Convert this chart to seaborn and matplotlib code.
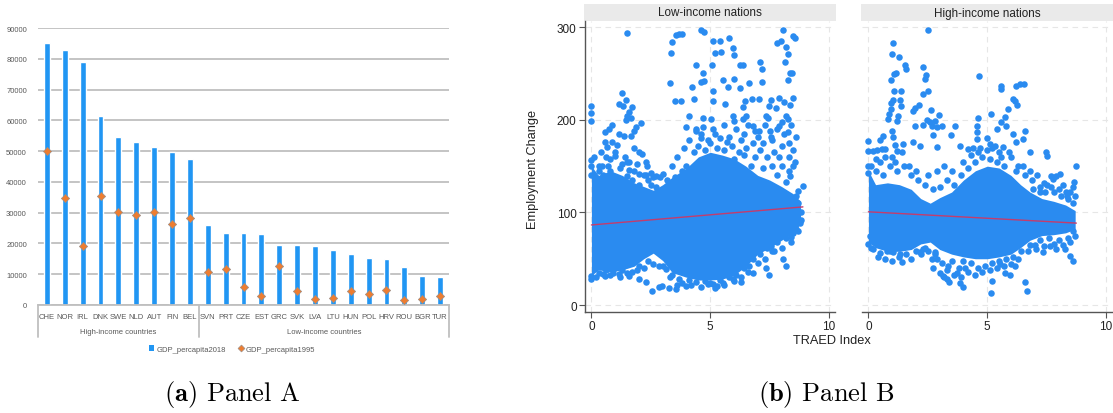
import matplotlib
matplotlib.use("Agg")
import matplotlib.pyplot as plt
import matplotlib.transforms as mtransforms
from matplotlib.patches import Rectangle, Patch
from matplotlib.lines import Line2D
import seaborn as sns
import pandas as pd

# ---------------- Panel A data ----------------
countries = ["CHE", "NOR", "IRL", "DNK", "SWE", "NLD", "AUT", "FIN", "BEL",
             "SVN", "PRT", "CZE", "EST", "GRC", "SVK", "LVA", "LTU", "HUN",
             "POL", "HRV", "ROU", "BGR", "TUR"]
gdp2018 = [85000, 82700, 79100, 61500, 54500, 52900, 51400, 49800, 47400,
           26000, 23500, 23400, 23000, 19600, 19400, 19100, 17900, 16500,
           15400, 14900, 12300, 9400, 9200]
gdp1995 = [50000, 34700, 19100, 35300, 30200, 29200, 30200, 26200, 28400,
           10600, 11700, 5700, 3000, 12800, 4700, 2000, 2300, 4400,
           3600, 4900, 1500, 2100, 2800]
group_names = ["High-income countries", "Low-income countries"]
group_sizes = [9, 14]

# ---------------- Panel B data ----------------
facet_titles = ["Low-income nations", "High-income nations"]

# dense core envelopes (x, lower, upper)
low_core_x = [0, 0.3, 0.8, 1.3, 1.8, 2.2, 2.6, 3.0, 3.4, 4.0, 4.5, 5.0, 5.5, 6.0, 6.5, 7.0, 7.5, 8.0, 8.5, 8.8]
low_core_lo = [32, 38, 36, 38, 42, 50, 56, 48, 35, 30, 27, 27, 28, 32, 42, 55, 62, 70, 78, 88]
low_core_hi = [150, 140, 145, 140, 132, 128, 124, 130, 138, 148, 160, 165, 162, 158, 150, 140, 135, 128, 120, 112]

high_core_x = [0, 0.3, 0.8, 1.3, 1.8, 2.2, 2.6, 3.0, 3.5, 4.0, 4.5, 5.0, 5.5, 6.0, 6.4, 6.8, 7.3, 7.8, 8.3, 8.7]
high_core_lo = [68, 62, 58, 58, 60, 66, 68, 60, 55, 52, 50, 50, 52, 55, 62, 70, 75, 76, 78, 82]
high_core_hi = [145, 130, 132, 130, 125, 115, 110, 116, 122, 135, 145, 150, 148, 140, 130, 122, 115, 112, 108, 102]

low_pts = [
    (1.51, 293.5), (3.55, 291.7), (3.69, 292.8), (3.83, 292.8), (3.38, 283.8), (3.35, 272),
    (4.6, 297), (4.75, 295), (5.1, 285), (5.41, 285), (5.8, 288.5), (5.2, 272), (5.45, 273),
    (5.94, 277.6), (6.0, 270), (6.27, 259.6), (6.39, 259.6), (7.1, 263), (7.17, 255), (8.06, 297),
    (7.8, 283), (7.99, 285), (8.2, 279), (8.27, 271), (8.14, 263), (8.48, 291), (8.55, 288.5),
    (8.34, 251), (8.42, 251), (8.27, 243), (5.06, 259.6), (4.42, 259.6), (4.68, 251), (4.75, 242),
    (4.6, 240.5), (3.3, 240), (4.25, 236), (5.55, 243), (6.0, 244), (5.76, 236), (6.25, 234),
    (6.65, 240), (7.18, 240.5), (5.1, 231.5), (4.32, 223), (3.52, 220), (3.76, 220), (5.1, 220),
    (5.63, 217), (6.37, 213.5), (6.48, 220.7), (6.76, 222.5), (7.07, 223), (7.56, 221), (7.9, 223.6),
    (8.1, 219), (8.37, 216), (8.48, 223.6), (7.46, 214.6), (7.75, 212.4), (7.35, 204.5), (7.42, 201.6),
    (8.2, 204.5), (8.27, 201), (7.9, 193.7), (8.27, 186.5), (6.5, 204.5), (6.37, 201), (5.94, 204.5),
    (6.0, 199), (6.79, 193.7), (7.07, 188), (7.56, 181), (4.11, 204.5), (4.68, 202), (5.03, 201),
    (3.97, 192), (4.39, 190), (4.6, 184.7),
    (0, 214.6), (0, 207), (0, 199), (1.27, 229), (1.15, 217), (1.32, 214.6), (1.44, 221.8),
    (1.72, 213.5), (1.58, 208), (1.51, 203.8), (1.44, 199.8), (1.65, 201.6), (2.07, 196.6),
    (1.86, 192), (1.79, 188), (0.87, 194.4), (0.73, 190), (0.59, 186.5), (1.15, 184.7), (1.37, 183),
    (1.65, 183), (0.87, 176.4), (1.08, 172.8), (0.59, 175.7), (0.66, 170.3), (1.79, 170), (2.0, 165),
    (2.11, 163), (1.0, 161), (0.8, 157.7), (0.45, 150.5), (0.31, 145), (1.58, 154), (2.28, 154),
    (2.35, 150.5), (2.49, 143), (2.28, 140), (2.7, 139.6), (2.9, 137.8), (2.0, 141.4), (1.51, 139.6),
    (0, 31.5), (0.59, 31.5), (0.8, 32), (1.15, 33), (1.58, 31.5), (2.0, 28), (2.28, 25), (2.56, 15.3),
    (2.85, 19), (2.99, 20.7), (3.27, 18), (3.55, 17), (3.83, 24.3), (3.97, 20.7), (2.77, 60), (3.2, 51),
    (2.85, 42), (3.13, 38.7), (5.1, 22.5), (5.3, 20.7), (5.52, 24.3), (5.94, 28), (6.3, 25), (6.65, 42),
    (6.79, 35), (7.35, 40.5), (7.46, 32), (8.06, 49.5), (8.17, 42), (7.56, 64), (7.61, 58.6), (8.2, 78.4),
    (8.4, 73), (8.62, 82), (8.76, 89), (8.9, 128.8), (8.69, 123), (8.6, 118), (8.48, 150), (8.55, 154),
    (8.34, 139.6), (8.2, 132.4), (7.56, 128.8), (7.7, 121.6),
    (4.3, 165), (4.5, 172), (4.8, 168), (5.0, 175), (5.3, 170), (5.6, 168), (5.9, 172), (6.2, 165),
    (6.5, 170), (6.8, 175), (7.1, 168), (7.4, 160), (7.7, 165), (8.0, 172), (8.3, 160), (4.6, 180),
    (5.2, 185), (5.8, 182), (6.4, 185), (7.0, 182), (7.6, 178), (8.1, 185), (6.0, 158), (6.7, 150),
    (7.2, 148), (7.8, 140), (8.0, 150), (3.8, 145), (4.0, 150), (3.5, 138), (3.2, 135), (0.3, 150),
    (0.5, 140), (0.8, 145), (1.2, 148), (1.5, 155), (1.8, 145), (2.2, 140), (2.5, 130), (2.7, 128),
    (0.6, 160), (1.0, 165), (1.4, 160), (0.2, 135), (2.0, 130), (1.1, 135),
    (0.3, 35), (0.6, 38), (1.0, 40), (1.3, 38), (1.7, 36), (2.0, 42), (2.4, 48), (3.4, 32), (3.7, 28),
    (4.1, 27), (4.4, 25), (4.8, 26), (5.0, 24), (5.4, 27), (5.8, 30), (6.1, 32), (6.4, 40), (6.8, 50),
    (7.1, 55), (7.4, 62), (7.8, 68), (8.2, 72), (8.5, 78), (8.8, 92), (8.8, 100), (8.7, 110),
    (0, 150), (0, 157), (0, 140), (0, 28),
    (3.6, 160), (3.9, 170), (4.1, 178), (4.4, 188), (4.7, 192), (4.9, 178), (5.1, 190), (5.4, 180),
    (5.6, 195), (5.7, 176), (6.1, 190), (6.3, 178), (6.6, 195), (6.9, 188), (7.2, 175), (7.3, 195),
    (7.5, 188), (7.8, 190), (8.0, 198), (8.3, 175), (8.5, 168), (8.6, 182), (8.4, 195), (7.9, 160),
    (7.6, 150), (8.3, 145), (6.9, 160), (6.4, 162), (3.4, 150), (3.0, 142), (2.6, 138), (2.4, 135),
    (0.1, 160), (0.4, 165), (0.7, 150), (1.3, 152), (1.6, 146), (1.9, 152), (0.9, 130), (1.7, 135),
    (0.2, 30), (0.5, 33), (0.9, 35), (1.2, 30), (1.5, 35), (1.9, 38), (2.2, 40), (2.6, 44), (3.0, 42),
    (3.3, 30), (3.6, 22), (4.2, 22), (4.6, 20), (4.9, 23), (5.2, 18), (5.6, 22), (6.0, 26), (6.3, 30),
    (6.6, 36), (7.0, 45), (7.3, 50), (7.7, 58), (8.0, 62), (8.4, 68), (8.7, 80),
]
low_x = [p[0] for p in low_pts]
low_y = [p[1] for p in low_pts]

high_pts = [
    (2.52, 297), (1.05, 283), (1.01, 271), (1.3, 268), (1.54, 259.6), (1.57, 255), (1.16, 251),
    (1.09, 249.5), (0.94, 243), (2.31, 256.8), (2.42, 248.5), (2.38, 244), (2.52, 231), (2.31, 227.6),
    (1.09, 231), (1.36, 231), (1.05, 221.8), (1.33, 221.4), (0.94, 217.8), (1.36, 214.6), (1.96, 212.4),
    (1.89, 210), (2.14, 216), (2.62, 210.6), (2.98, 205), (0.94, 211.7), (0.88, 206), (0.84, 201),
    (1.26, 204.5), (1.22, 199), (2.45, 199.8), (2.59, 198), (2.66, 193.7), (2.8, 199), (2.9, 192.6),
    (3.08, 193), (1.96, 193), (2.31, 194.4), (2.7, 183.6), (3.64, 193), (3.46, 183.6), (2.87, 170.3),
    (1.89, 176.4), (2.17, 172), (0.98, 188), (1.05, 181), (1.12, 172.8), (0.63, 182.9), (0.49, 178.6),
    (0, 177), (0, 166.7), (0.21, 166.7), (0.35, 167.7), (0.7, 168.5), (0.56, 169), (1.19, 166.7),
    (1.47, 174), (4.65, 247.7), (5.56, 237), (5.6, 233), (6.2, 237), (6.37, 238.4), (6.54, 238.7),
    (6.09, 223), (6.16, 220.7), (5.88, 211.7), (6.27, 216.4), (5.15, 206), (4.62, 202), (5.74, 203.4),
    (5.6, 197.3), (5.39, 190), (5.81, 193.7), (4.55, 193.7), (4.55, 186.5), (4.58, 179.3), (6.09, 184.7),
    (6.58, 188), (6.51, 179.3), (4.97, 180), (5.11, 174), (3.85, 172), (4.2, 169), (4.41, 170),
    (5.32, 172), (5.67, 171), (6.23, 175.7), (6.79, 165), (7.49, 165), (7.52, 161), (8.73, 150.5),
    (8.05, 142), (7.88, 139.6), (8.67, 132.4), (8.61, 127), (8.47, 122), (8.36, 118), (7.7, 139.6),
    (7.77, 136), (6.93, 125), (7.21, 121.6), (7.42, 121.6),
    (5.14, 13.5), (6.68, 15.3), (5.18, 26), (6.58, 25), (3.99, 19), (3.85, 24.3), (3.29, 28),
    (3.15, 31.5), (3.01, 35), (3.71, 35), (4.06, 40.5), (3.36, 42), (2.73, 40.5), (2.8, 56.8),
    (2.66, 49.5), (5.74, 35), (5.95, 32), (5.53, 44), (6.16, 42), (7.63, 64), (7.91, 60.4),
    (8.26, 60.4), (8.47, 53), (8.61, 47.7), (1.33, 55), (1.05, 56.8), (0.77, 58.6), (2.17, 56.8),
    (2.31, 60.4), (0.07, 74.8), (0.14, 71.2), (7.07, 60.4), (7.35, 56.8),
    (0.3, 145), (0.6, 140), (0.9, 150), (1.2, 145), (1.5, 150), (1.8, 140), (2.1, 135), (2.4, 130),
    (2.7, 125), (3.0, 128), (3.3, 135), (3.6, 130), (3.9, 140), (4.2, 148), (4.5, 155), (4.8, 160),
    (5.1, 158), (5.4, 155), (5.7, 150), (6.0, 160), (6.3, 150), (6.6, 140), (6.9, 135), (7.2, 128),
    (7.5, 130), (7.8, 122), (8.1, 118), (8.4, 115), (0.5, 155), (1.0, 160), (1.4, 165), (5.0, 168),
    (5.5, 165), (4.7, 170),
    (0.2, 60), (0.5, 56), (0.9, 58), (1.3, 52), (1.6, 55), (2.0, 58), (2.4, 62), (2.8, 55), (3.1, 45),
    (3.3, 38), (3.5, 48), (3.8, 40), (4.0, 48), (4.3, 45), (4.6, 40), (4.9, 42), (5.2, 45), (5.5, 48),
    (5.8, 50), (6.1, 52), (6.4, 58), (6.8, 65), (7.2, 70), (7.6, 72), (8.0, 70), (8.4, 72), (8.6, 80),
    (0, 150), (0, 143), (0, 66),
    (0.1, 150), (0.3, 158), (0.7, 160), (1.1, 155), (1.7, 150), (2.0, 145), (2.5, 140), (2.9, 145),
    (3.2, 150), (3.5, 145), (4.0, 155), (4.3, 162), (4.6, 165), (5.2, 170), (5.6, 160), (5.9, 165),
    (6.2, 145), (6.5, 150), (6.8, 145), (7.1, 140), (7.4, 132), (7.7, 128), (8.0, 125), (8.3, 122),
    (8.6, 110), (8.7, 118), (8.2, 130),
    (0.1, 62), (0.4, 52), (0.7, 50), (1.0, 48), (1.4, 46), (1.8, 50), (2.2, 55), (2.5, 58), (2.9, 50),
    (3.2, 30), (3.4, 25), (3.6, 32), (3.9, 30), (4.2, 36), (4.5, 32), (4.8, 36), (5.1, 38), (5.4, 40),
    (5.7, 42), (6.0, 44), (6.3, 50), (6.7, 58), (7.0, 65), (7.4, 64), (7.8, 66), (8.2, 65), (8.5, 68),
    (8.7, 75),
]
high_x = [p[0] for p in high_pts]
high_y = [p[1] for p in high_pts]

low_fit_x = [0, 8.9]
low_fit_y = [86.5, 106]
high_fit_x = [0, 8.75]
high_fit_y = [100.7, 88.5]

# ---------------- styling ----------------
BAR_BLUE = "#2196F3"
ORANGE = "#ED7D31"
GRID_A = "#BFBFBF"
TXT_A = "#595959"
DOT_BLUE = "#2A8BF0"
FIT = "#C43C6C"

sns.set_theme(style="white")
plt.rcParams["font.family"] = ["Liberation Sans", "DejaVu Sans"]

W, H = 1113, 414
fig = plt.figure(figsize=(W / 100, H / 100), dpi=100)

def frect(l, t, r, b):
    return [l / W, 1 - b / H, (r - l) / W, (b - t) / H]

# ================= Panel A =================
axA = fig.add_axes(frect(38, 29, 449, 306))
dfA = pd.DataFrame({"country": countries, "g18": gdp2018, "g95": gdp1995})
sns.barplot(data=dfA, x="country", y="g18", color=BAR_BLUE, width=0.33,
            saturation=1, ax=axA, zorder=2)
sns.stripplot(data=dfA, x="country", y="g95", jitter=False, marker="D", size=4.2,
              color=ORANGE, edgecolor="#9E8F86", linewidth=0.5, ax=axA, zorder=3)
axA.set_ylim(0, 90000)
axA.set_xlim(-0.5, len(countries) - 0.5)
axA.set_yticks(range(0, 90001, 10000))
axA.yaxis.grid(True, color=GRID_A, lw=1.3)
axA.set_axisbelow(True)
for s in ["left", "right", "top"]:
    axA.spines[s].set_visible(False)
axA.spines["bottom"].set_color(GRID_A)
axA.spines["bottom"].set_linewidth(1.3)
axA.tick_params(axis="both", length=0, labelsize=5.5, labelcolor=TXT_A)
axA.tick_params(axis="y", pad=8)
axA.tick_params(axis="x", pad=6)
axA.set_xlabel("")
axA.set_ylabel("")
trA = mtransforms.blended_transform_factory(axA.transData, axA.transAxes)
edges = [-0.5]
for n in group_sizes:
    edges.append(edges[-1] + n)
for e in edges:
    axA.plot([e, e], [0, -0.115], transform=trA, color=GRID_A, lw=1.3, clip_on=False)
for i, name in enumerate(group_names):
    axA.text((edges[i] + edges[i + 1]) / 2, -0.097, name, transform=trA, ha="center",
             va="center", fontsize=5.5, color=TXT_A)
handles = [Patch(facecolor=BAR_BLUE, edgecolor="none"),
           Line2D([], [], marker="D", ls="none", markersize=3.5, markerfacecolor=ORANGE,
                  markeredgecolor="#9E8F86", markeredgewidth=0.5)]
fig.legend(handles, ["GDP_percapita2018", "GDP_percapita1995"], loc="center",
           bbox_to_anchor=(232 / W, 1 - 350 / H), ncol=2, frameon=False, fontsize=5.5,
           labelcolor=TXT_A, handlelength=0.7, handleheight=0.7, columnspacing=1.6,
           handletextpad=0.3)

# ================= Panel B =================
facet_boxes = [frect(585, 22, 835, 312.7), frect(862, 22, 1112, 312.7)]
core = [(low_core_x, low_core_lo, low_core_hi), (high_core_x, high_core_lo, high_core_hi)]
pts = [(low_x, low_y), (high_x, high_y)]
fits = [(low_fit_x, low_fit_y), (high_fit_x, high_fit_y)]
strip_h = 17 / 290.7
for k in range(2):
    ax = fig.add_axes(facet_boxes[k])
    ax.set_xlim(-0.27, 10.25)
    ax.set_ylim(-7.2, 306.8)
    ax.set_xticks([0, 5, 10])
    ax.set_yticks([0, 100, 200, 300])
    ax.grid(True, color="#E6E6E6", lw=0.8, ls=(0, (5, 4)))
    ax.set_axisbelow(True)
    cx, clo, chi = core[k]
    ax.fill_between(cx, clo, chi, color=DOT_BLUE, lw=0, zorder=2)
    sns.scatterplot(x=pts[k][0], y=pts[k][1], color=DOT_BLUE, s=22, linewidth=0,
                    ax=ax, zorder=3)
    sns.lineplot(x=fits[k][0], y=fits[k][1], color=FIT, lw=1.0, ax=ax, zorder=4)
    for s in ["right", "top"]:
        ax.spines[s].set_visible(False)
    ax.spines["bottom"].set_color("#555555")
    ax.spines["bottom"].set_linewidth(1.0)
    if k == 0:
        ax.spines["left"].set_color("#555555")
        ax.spines["left"].set_linewidth(1.0)
        ax.tick_params(axis="y", length=4, width=0.8, color="#555555", labelsize=8.5,
                       labelcolor="#222222", pad=2, left=True)
    else:
        ax.spines["left"].set_visible(False)
        ax.tick_params(axis="y", left=False, labelleft=False)
    ax.tick_params(axis="x", length=4, width=0.8, color="#555555", labelsize=8.5,
                   labelcolor="#222222", pad=2, bottom=True)
    ax.add_patch(Rectangle((-0.004, 1.0), 1.008, strip_h, transform=ax.transAxes,
                           facecolor="#EAEAEA", edgecolor="none", clip_on=False))
    ax.text(0.5, 1 + strip_h / 2, facet_titles[k], transform=ax.transAxes, ha="center",
            va="center", fontsize=8.4, color="#222222")

fig.text(533 / W, 1 - 169 / H, "Employment Change", rotation=90, ha="center",
         va="center", fontsize=9.2, color="#222222")
fig.text(832 / W, 1 - 341 / H, "TRAED Index", ha="center", va="center",
         fontsize=9.2, color="#222222")

# ================= captions =================
plt.rcParams["mathtext.fontset"] = "cm"
fig.text(232 / W, 1 - 395 / H, r"$\mathbf{(a)}$ Panel A", family="cmr10",
         ha="center", va="center", fontsize=19, color="black")
fig.text(826 / W, 1 - 395 / H, r"$\mathbf{(b)}$ Panel B", family="cmr10",
         ha="center", va="center", fontsize=19, color="black")

fig.savefig("out.png", dpi=100)
